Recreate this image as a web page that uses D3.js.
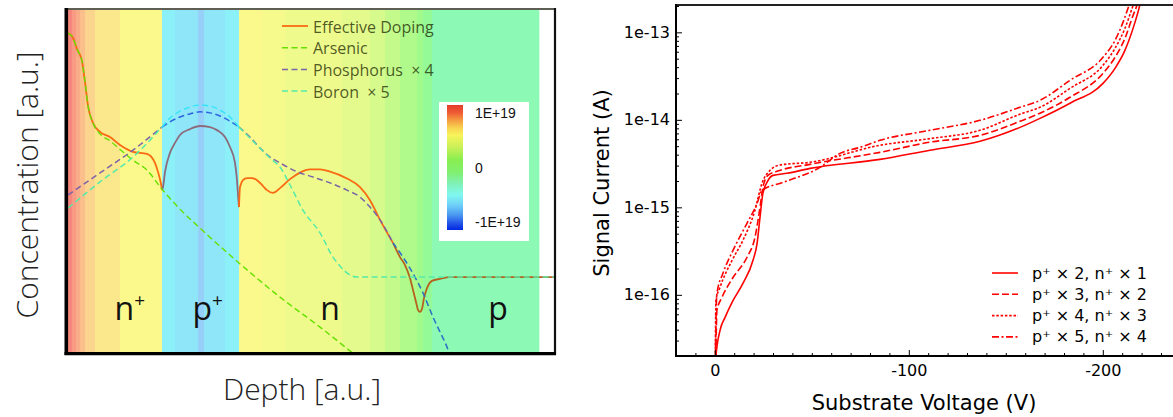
<!DOCTYPE html>
<html>
<head>
<meta charset="utf-8">
<title>Doping profile and signal current</title>
<script src="https://cdn.jsdelivr.net/npm/d3@7"></script>
<style>
  html, body { margin: 0; padding: 0; background: #ffffff; }
  svg { display: block; }
</style>
</head>
<body>
<svg id="chart" width="1173" height="417"></svg>
<script>
// ===== Left panel: implant profiles versus depth (arbitrary units, 0-100) =====
const arsenic = [[0,92.75],[1.03,91.3],[1.85,88.1],[2.87,84.6],[3.49,78.6],[4.11,71.6],[5.13,66.7],[6.57,63.5],[8.62,61.5],[10.68,59.0],[13.35,55.9],[16.22,53.0],[19.30,47.5],[23.0,41.7],[27.10,36.2],[35.11,26.1],[43.53,16.2],[51.75,7.5],[58.93,-0.6]];

// effective doping |N_D - N_A|, split by region
const effNplus = [[0,92.75],[1.03,91.3],[1.85,88.1],[2.87,84.6],[3.49,78.6],[4.11,71.6],[5.13,66.7],[6.57,64.1],[8.62,62.6],[10.68,60.3],[13.35,58.3],[16.22,57.7],[17.86,55.1],[18.48,52.5],[19.10,49.0],[19.30,47.2]];
const effPplus = [[19.30,47.2],[19.51,48.1],[19.92,52.5],[20.94,58.0],[21.97,60.9],[23.0,63.2],[25.05,64.9],[27.10,65.8],[29.16,65.5],[30.60,64.6],[32.24,62.6],[33.26,59.7],[34.29,55.1],[34.70,50.1],[34.91,45.8],[35.11,42.3]];
const effN = [[35.11,42.3],[35.32,48.1],[35.93,50.1],[36.76,50.7],[37.78,50.7],[38.81,50.1],[40.04,48.4],[40.86,47.2],[42.09,46.4],[43.53,47.8],[45.59,50.4],[47.64,52.3],[49.69,53.2],[51.75,53.2],[53.80,52.6],[57.29,50.6],[59.96,48.1],[62.01,44.3],[64.07,38.6],[66.74,31.9]];
const effTail = [[66.74,31.9],[68.17,27.8],[69.20,25.5],[70.23,21.7],[70.84,18.3],[71.46,14.8],[71.87,12.5],[72.28,11.9],[72.69,12.8],[73.10,15.9],[73.72,18.8],[74.74,20.9],[76.39,21.5],[78.44,22.0],[100,22.0]];

// phosphorus (x4)
const phosNplus = [[0,45.8],[6.57,52.2],[13.35,58.8],[19.30,65.5]];
const phosPplus = [[19.30,65.5],[20.94,67.0],[23.0,68.4],[25.05,69.3],[27.10,69.9],[29.16,69.6],[31.21,68.7],[33.26,67.2],[35.11,65.5]];
const phosN = [[35.11,65.5],[37.37,62.6],[39.43,59.4],[41.48,56.8],[43.53,55.1],[46.61,52.8],[50.31,51.0],[53.80,49.3],[57.29,47.2],[59.96,45.2],[62.01,42.3],[64.07,38.6],[66.74,31.9]];
const phosTail = [[66.74,31.9],[68.79,27.8],[71.25,22.0],[72.90,17.4],[74.95,10.4],[76.39,6.1],[78.03,0.9],[78.44,-0.9]];

// boron (x5)
const boronNplus = [[0,42.0],[6.57,49.6],[13.35,56.8],[19.30,65.5]];
const boronPplus = [[19.30,65.5],[20.94,68.1],[23.0,70.1],[25.05,71.3],[27.10,71.9],[29.16,71.6],[31.21,70.4],[33.26,68.4],[35.11,65.5]];
const boronN = [[35.11,65.5],[37.37,62.3],[39.43,59.4],[41.48,56.5],[43.53,53.9],[45.59,48.7],[48.25,41.4],[51.75,34.8],[54.41,27.8],[55.85,25.2],[57.29,23.2],[59.34,22.0],[100,22.0]];

// net-doping colour bands behind the profile
const bandEdges = [0,0.82,1.64,2.46,3.49,5.54,10.68,19.30,21.97,26.69,27.93,32.24,35.11,39.84,44.56,56.26,62.01,65.09,68.17,71.66,72.90,74.74,96.71];
const bandColors = ['#f6877c','#f89a84','#f9ac88','#fabf8b','#fbd58d','#fbe78c','#fbf98c','#8cf0f8','#8fe6f8','#96d0f8','#8fe6f8','#8cf0f8','#fbf98c','#f6f98c','#eefa8c','#e4fa8c','#d6fa8c','#c4fa8c','#b0fa8c','#a0fa8c','#94fa98','#8cfab4'];

const regionLabels = [
  { depth: 12.7, base: 'n', sup: '+' },
  { depth: 28.7, base: 'p', sup: '+' },
  { depth: 53.8, base: 'n', sup: '' },
  { depth: 88.3, base: 'p', sup: '' }
];

const profileLegend = ['Effective Doping', 'Arsenic', 'Phosphorus  \u00d7 4', 'Boron  \u00d7 5'];
const profileColors = ['#f96a12', '#66e000', '#7b64a8', '#55eaa8'];

const colorbarLabels = ['1E+19', '0', '-1E+19'];
const colorbarStops = [[0,'#e63a2c'],[0.06,'#ee5a34'],[0.12,'#f59a40'],[0.18,'#f8d050'],[0.24,'#f8f45a'],[0.34,'#c8f058'],[0.44,'#88ee50'],[0.54,'#80f070'],[0.62,'#80f0b0'],[0.72,'#80f8f0'],[0.8,'#70d0f8'],[0.88,'#4a98f0'],[0.95,'#2050e8'],[1,'#0028e0']];

// ===== Right panel: signal current versus substrate voltage =====
const seriesNames = ['p\u207a \u00d7 2, n\u207a \u00d7 1', 'p\u207a \u00d7 3, n\u207a \u00d7 2', 'p\u207a \u00d7 4, n\u207a \u00d7 3', 'p\u207a \u00d7 5, n\u207a \u00d7 4'];
const ivSolid = [[-0.2,1.2e-17],[-0.6,1.98e-17],[-2.7,3.93e-17],[-5.3,5.53e-17],[-8.9,8.2e-17],[-14.5,1.35e-16],[-19.7,2.48e-16],[-21.8,3.88e-16],[-23.3,7.69e-16],[-24.8,1.45e-15],[-26.9,1.93e-15],[-30.0,2.32e-15],[-37.2,2.45e-15],[-49.1,2.79e-15],[-85.1,3.53e-15],[-110.9,4.5e-15],[-136.7,5.68e-15],[-157.3,8.2e-15],[-167.6,1.04e-14],[-183.1,1.55e-14],[-200.1,2.61e-14],[-206.3,3.88e-14],[-211.4,6.22e-14],[-215.6,1.11e-13],[-218.1,1.69e-13],[-219.7,2.32e-13]];
const ivDashed = [[-0.2,1.2e-17],[-0.6,2.6e-17],[-1.1,6.65e-17],[-3.7,9.36e-17],[-9.4,1.58e-16],[-16.6,2.69e-16],[-20.7,4.54e-16],[-23.3,1.0e-15],[-24.8,1.69e-15],[-27.4,2.32e-15],[-32.1,2.58e-15],[-49.1,3.1e-15],[-85.1,4.25e-15],[-110.9,5.55e-15],[-136.7,6.65e-15],[-157.3,9.62e-15],[-167.6,1.19e-14],[-183.1,1.81e-14],[-200.1,3.40e-14],[-206.3,5.18e-14],[-211.4,8.53e-14],[-215.6,1.56e-13],[-217.6,2.04e-13],[-218.5,2.4e-13]];
const ivDotted = [[-0.2,1.2e-17],[-0.6,8.65e-17],[-2.7,1.22e-16],[-8.9,2.48e-16],[-14.5,4.2e-16],[-20.7,9.25e-16],[-24.3,1.88e-15],[-28.5,2.65e-15],[-33.6,3.05e-15],[-49.1,3.27e-15],[-85.1,5.12e-15],[-110.9,6.1e-15],[-136.7,7.59e-15],[-157.3,1.16e-14],[-167.6,1.39e-14],[-183.1,2.29e-14],[-200.1,4.20e-14],[-206.3,6.57e-14],[-211.4,1.11e-13],[-215.1,1.88e-13],[-216.6,2.32e-13]];
const ivDashDot = [[-0.2,1.2e-17],[-0.6,5.12e-17],[-1.1,1.04e-16],[-4.2,1.76e-16],[-9.4,3.23e-16],[-16.6,6.57e-16],[-21.8,1.11e-15],[-24.3,1.56e-15],[-35.2,1.93e-15],[-54.2,2.86e-15],[-64.5,4.14e-15],[-74.8,4.85e-15],[-85.1,5.83e-15],[-110.9,7.59e-15],[-136.7,9.87e-15],[-157.3,1.39e-14],[-167.6,1.67e-14],[-183.1,2.83e-14],[-200.1,5.18e-14],[-206.3,8.1e-14],[-210.4,1.30e-13],[-213.0,1.88e-13],[-214.5,2.32e-13]];
const ivSeries = [ivSolid, ivDashed, ivDotted, ivDashDot];
const ivDashes = [null, '7,3', '2.5,1.8', '7,2.5,2,2.5'];

const currentTicks = [1e-16, 1e-15, 1e-14, 1e-13];
const voltageTicks = [0, -100, -200];

// ---------------------------------------------------------------------------
const svg = d3.select('#chart');
const defs = svg.append('defs');

// ----- left panel -----
const xL = d3.scaleLinear().domain([0, 100]).range([68, 555]);
const yL = d3.scaleLinear().domain([0, 100]).range([353, 8]);

defs.append('clipPath').attr('id', 'clipLeft')
  .append('rect').attr('x', xL(0)).attr('y', yL(100)).attr('width', xL(100) - xL(0)).attr('height', yL(0) - yL(100));

const left = svg.append('g');

left.selectAll('rect.band').data(bandColors).join('rect')
  .attr('class', 'band')
  .attr('x', (c, i) => xL(bandEdges[i]))
  .attr('width', (c, i) => xL(bandEdges[i + 1]) - xL(bandEdges[i]) + 0.4)
  .attr('y', yL(100)).attr('height', yL(0) - yL(100))
  .attr('fill', c => c);

const lineL = d3.line().x(d => xL(d[0])).y(d => yL(d[1])).curve(d3.curveMonotoneX);
const curvesL = left.append('g').attr('clip-path', 'url(#clipLeft)').attr('fill', 'none');

const profileSegments = [
  { data: effNplus, color: '#f96a12', dash: null, w: 1.8 },
  { data: effPplus, color: '#8c6b7c', dash: null, w: 1.8 },
  { data: effN, color: '#f96a12', dash: null, w: 1.8 },
  { data: effTail, color: '#b5621e', dash: null, w: 1.8 },
  { data: arsenic, color: '#66e000', dash: '6,3.5', w: 1.4 },
  { data: phosNplus, color: '#7b64a8', dash: '6,3.5', w: 1.5 },
  { data: phosPplus, color: '#2b66e0', dash: '6,3.5', w: 1.5 },
  { data: phosN, color: '#7b64a8', dash: '6,3.5', w: 1.5 },
  { data: phosTail, color: '#2c6fc8', dash: '6,3.5', w: 1.5 },
  { data: boronNplus, color: '#55eaa8', dash: '6,3.5', w: 1.5 },
  { data: boronPplus, color: '#38e4f8', dash: '6,3.5', w: 1.5 },
  { data: boronN, color: '#55eaa8', dash: '6,3.5', w: 1.5 }
];
curvesL.selectAll('path').data(profileSegments).join('path')
  .attr('d', s => lineL(s.data))
  .attr('stroke', s => s.color)
  .attr('stroke-width', s => s.w)
  .attr('stroke-dasharray', s => s.dash);

// frame
left.append('line').attr('x1', 66).attr('x2', 556).attr('y1', 9).attr('y2', 9).attr('stroke', '#5e5e55').attr('stroke-width', 2);
left.append('line').attr('x1', 555).attr('x2', 555).attr('y1', 8).attr('y2', 355).attr('stroke', '#111').attr('stroke-width', 2.2);
left.append('line').attr('x1', 66.3).attr('x2', 66.3).attr('y1', 8).attr('y2', 355).attr('stroke', '#000').attr('stroke-width', 3.6);
left.append('line').attr('x1', 64.5).attr('x2', 556).attr('y1', 353.6).attr('y2', 353.6).attr('stroke', '#000').attr('stroke-width', 3.2);

// legend
const legL = left.append('g');
profileLegend.forEach((name, i) => {
  const y = 26 + i * 21.7;
  legL.append('line').attr('x1', 282).attr('x2', 308).attr('y1', y).attr('y2', y)
    .attr('stroke', profileColors[i]).attr('stroke-width', i === 0 ? 1.8 : 1.5)
    .attr('stroke-dasharray', i === 0 ? null : '6,3.5');
  legL.append('text').attr('x', 313).attr('y', y + 6.5)
    .attr('font-family', 'Open Sans, sans-serif').attr('font-size', 16)
    .attr('fill', '#1a2600').attr('fill-opacity', 0.76)
    .style('white-space', 'pre')
    .text(name);
});

// colour bar
const grad = defs.append('linearGradient').attr('id', 'dopingScale')
  .attr('x1', 0).attr('y1', 0).attr('x2', 0).attr('y2', 1);
grad.selectAll('stop').data(colorbarStops).join('stop')
  .attr('offset', d => d[0]).attr('stop-color', d => d[1]);
left.append('rect').attr('x', 439).attr('y', 102).attr('width', 90).attr('height', 139).attr('fill', '#ffffff');
left.append('rect').attr('x', 447).attr('y', 105).attr('width', 16).attr('height', 125).attr('fill', 'url(#dopingScale)');
const cbY = d3.scaleLinear().domain([0, 2]).range([118, 227]);
left.selectAll('text.cb').data(colorbarLabels).join('text')
  .attr('class', 'cb')
  .attr('x', 475).attr('y', (d, i) => cbY(i))
  .attr('font-family', 'Liberation Sans, Arial, sans-serif').attr('font-size', 14)
  .attr('fill', '#111').text(d => d);

// region labels
regionLabels.forEach(r => {
  const t = left.append('text').attr('x', xL(r.depth)).attr('y', 320)
    .attr('text-anchor', 'middle').attr('font-family', 'Open Sans, sans-serif')
    .attr('font-size', 32).attr('fill', '#111');
  t.append('tspan').text(r.base);
  if (r.sup) t.append('tspan').attr('font-size', 19).attr('dy', -13).text(r.sup);
});

// axis titles
left.append('text').attr('x', 302).attr('y', 400).attr('text-anchor', 'middle')
  .attr('font-family', 'Open Sans, sans-serif').attr('font-weight', 300)
  .attr('font-size', 30).attr('fill', '#222').text('Depth [a.u.]');
left.append('text').attr('transform', 'translate(38,185) rotate(-90)').attr('text-anchor', 'middle')
  .attr('font-family', 'Open Sans, sans-serif').attr('font-weight', 300)
  .attr('font-size', 30).attr('fill', '#222').text('Concentration [a.u.]');

// ----- right panel -----
const xR = d3.scaleLinear().domain([20, -240]).range([676, 1180.4]);
const yR = d3.scaleLog().domain([2e-17, 2e-13]).range([356, 6]);

defs.append('clipPath').attr('id', 'clipRight')
  .append('rect').attr('x', 676).attr('y', 5).attr('width', 500).attr('height', 351);

const right = svg.append('g');

const lineR = d3.line().x(d => xR(d[0])).y(d => yR(d[1])).curve(d3.curveMonotoneX);
right.append('g').attr('clip-path', 'url(#clipRight)').attr('fill', 'none')
  .selectAll('path').data(ivSeries).join('path')
  .attr('d', d => lineR(d))
  .attr('stroke', '#ff0000').attr('stroke-width', 1.6)
  .attr('stroke-dasharray', (d, i) => ivDashes[i]);

// minor ticks
const minorY = [];
for (let e = -17; e <= -13; e++) for (let m = 2; m <= 9; m++) {
  const v = m * Math.pow(10, e);
  if (v >= 2e-17 && v <= 2e-13) minorY.push(v);
}
const minorX = d3.range(20, -241, -10).filter(v => v % 100 !== 0);

const axisFont = 'DejaVu Sans, Bitstream Vera Sans, sans-serif';

const yMinor = right.append('g').attr('transform', 'translate(676,0)')
  .call(d3.axisLeft(yR).tickValues(minorY).tickSize(-3).tickFormat(''));
const yMajor = right.append('g').attr('transform', 'translate(676,0)')
  .call(d3.axisLeft(yR).tickValues(currentTicks).tickSize(-6).tickPadding(6)
    .tickFormat(d => '1e' + Math.round(Math.log10(d))));
const xMinor = right.append('g').attr('transform', 'translate(0,356)')
  .call(d3.axisBottom(xR).tickValues(minorX).tickSize(-3).tickFormat(''));
const xMajor = right.append('g').attr('transform', 'translate(0,356)')
  .call(d3.axisBottom(xR).tickValues(voltageTicks).tickSize(-6).tickPadding(9)
    .tickFormat(d => String(d)));

[yMinor, yMajor, xMinor, xMajor].forEach(g => {
  g.select('.domain').remove();
  g.selectAll('.tick line').attr('stroke', '#000').attr('stroke-width', 1);
  g.selectAll('text').attr('font-family', axisFont).attr('font-size', 16).attr('fill', '#000');
});

// spines
right.append('line').attr('x1', 676).attr('x2', 1173).attr('y1', 5).attr('y2', 5).attr('stroke', '#222').attr('stroke-width', 2);
right.append('line').attr('x1', 676).attr('x2', 676).attr('y1', 4).attr('y2', 357).attr('stroke', '#000').attr('stroke-width', 2);
right.append('line').attr('x1', 675).attr('x2', 1173).attr('y1', 356).attr('y2', 356).attr('stroke', '#000').attr('stroke-width', 2);

// legend
const legR = right.append('g');
seriesNames.forEach((name, i) => {
  const y = 273 + i * 21.3;
  legR.append('line').attr('x1', 992).attr('x2', 1018).attr('y1', y).attr('y2', y)
    .attr('stroke', '#ff0000').attr('stroke-width', 1.6).attr('stroke-dasharray', ivDashes[i]);
  legR.append('text').attr('x', 1032).attr('y', y + 5.5)
    .attr('font-family', axisFont).attr('font-size', 16).attr('fill', '#000').text(name);
});

// axis titles
right.append('text').attr('x', 924).attr('y', 410).attr('text-anchor', 'middle')
  .attr('font-family', axisFont).attr('font-size', 21).attr('fill', '#000').text('Substrate Voltage (V)');
right.append('text').attr('transform', 'translate(609,183) rotate(-90)').attr('text-anchor', 'middle')
  .attr('font-family', axisFont).attr('font-size', 21).attr('fill', '#000').text('Signal Current (A)');
</script>
</body>
</html>
